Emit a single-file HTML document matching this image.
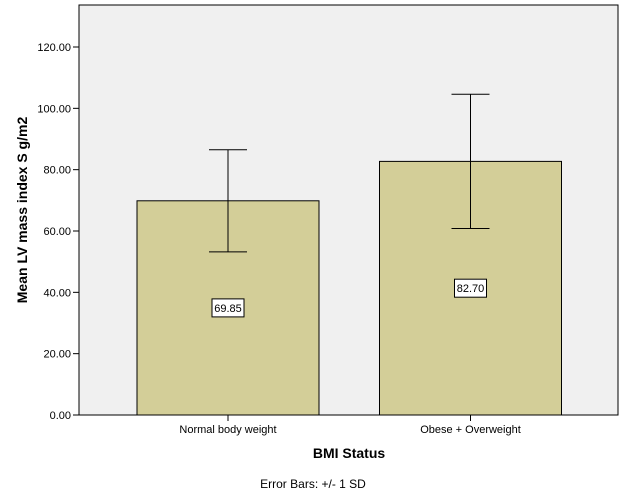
<!DOCTYPE html>
<html><head><meta charset="utf-8"><style>body{margin:0;background:#fff}svg{display:block;font-family:"Liberation Sans",Arial,sans-serif}</style></head>
<body>
<svg width="626" height="501">
<rect x="79" y="5" width="539" height="410" fill="#f0f0f0" stroke="#000" stroke-width="1"/>
<g id="ticks"></g>
<g id="bars"></g>
<text x="27" y="210" transform="rotate(-90 27 210)" text-anchor="middle" font-size="14" font-weight="bold">Mean LV mass index S g/m2</text>
<text x="349" y="458" text-anchor="middle" font-size="14" font-weight="bold">BMI Status</text>
<text x="313" y="488" text-anchor="middle" font-size="12">Error Bars: +/- 1 SD</text>
</svg>
<script>
const categories=["Normal body weight","Obese + Overweight"];
const means=[69.85,82.70];
const sds=[16.65,21.9];
const labels=["69.85","82.70"];
const yTicks=[0,20,40,60,80,100,120];
const NS="http://www.w3.org/2000/svg";
const y=v=>415-v*(368/120);
const xc=i=>228+i*242.5;
function mk(t,a,p){const e=document.createElementNS(NS,t);for(const k in a)e.setAttribute(k,a[k]);p.appendChild(e);return e;}
const tg=document.getElementById('ticks'),bg=document.getElementById('bars');
yTicks.forEach(v=>{
 const l=mk('line',{x1:73,x2:79,y1:y(v),y2:y(v),stroke:'#000'},tg);
 
 
 const t=mk('text',{x:71,y:y(v)+4,'text-anchor':'end','font-size':11},tg);
 
 
 t.textContent=v.toFixed(2);
});
categories.forEach((c,i)=>{
 const cx=xc(i);
 const r=mk('rect',{x:cx-91,y:y(means[i]),width:182,height:y(0)-y(means[i]),fill:'#d3ce98',stroke:'#000'},bg);
 
 
 const hi=y(means[i]+sds[i]),lo=y(means[i]-sds[i]);
 const eb=mk('path',{d:`M${cx},${hi}V${lo}M${cx-19},${hi}H${cx+19}M${cx-19},${lo}H${cx+19}`,stroke:'#000',fill:'none'},bg);
 
 
 const my=(y(means[i])+y(0))/2;
 const lb=mk('rect',{x:cx-16,y:my-9,width:32,height:18,fill:'#fff',stroke:'#000'},bg);
 
 
 const lt=mk('text',{x:cx,y:my+4,'text-anchor':'middle','font-size':11},bg);
 
 
 lt.textContent=labels[i];
 const tk=mk('line',{x1:cx,x2:cx,y1:415,y2:421,stroke:'#000'},bg);
 
 
 const ct=mk('text',{x:cx,y:433,'text-anchor':'middle','font-size':11},bg);
 
 
 ct.textContent=c;
});
</script>
</body></html>
